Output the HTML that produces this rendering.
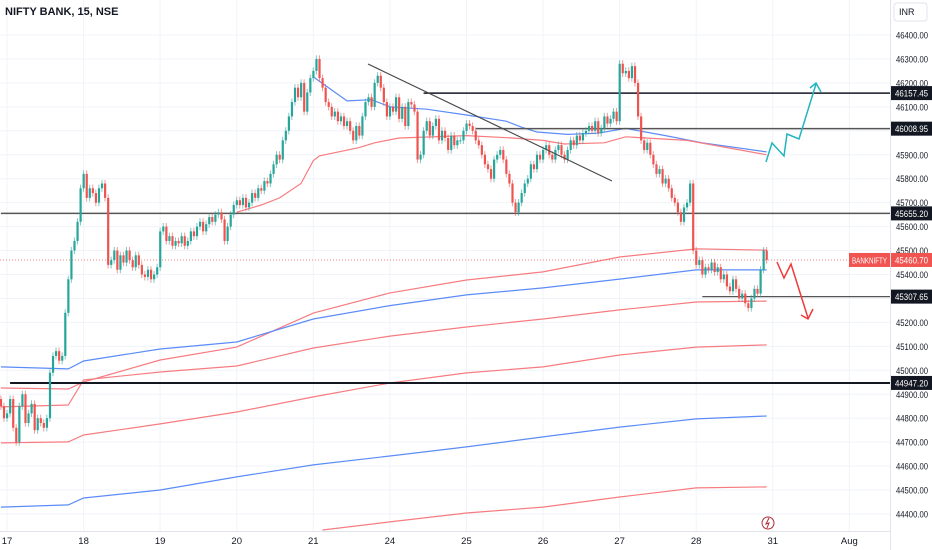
<!DOCTYPE html>
<html><head><meta charset="utf-8"><style>
html,body{margin:0;padding:0;background:#fff;}
svg{display:block;font-family:"Liberation Sans",sans-serif;}
</style></head><body>
<svg id="chart" width="932" height="550" viewBox="0 0 932 550" xmlns="http://www.w3.org/2000/svg">
<rect x="0" y="0" width="932" height="550" fill="#fff"/>
<g id="grid"></g>
<g id="bands"></g>
<g id="levels"></g>
<g id="candles"></g>
<g id="drawings"></g>
<g id="yaxis"></g>
<g id="xaxis"></g>
<text x="5" y="15" font-size="11" font-weight="bold" fill="#131722">NIFTY BANK, 15, NSE</text>
<rect x="894" y="3" width="33" height="18" rx="3" fill="#fff" stroke="#e0e3eb"/>
<text x="899" y="15" font-size="9" fill="#131722">INR</text>
<g><circle cx="768" cy="523" r="6" fill="none" stroke="#b22833" stroke-width="1"/><path d="M769 518 L766 524 L769 523 L767 528" fill="none" stroke="#b22833" stroke-width="1"/></g>
</svg>
<script>
// ---- data ----
const closes = [44850,44800,
44820,44880,44760,44700,44850,44900,44780,44820,44860,44750,44800,44780,44760,44800,44990,45060,45080,45040,45060,45240,45380,45500,45540,45620,45760,
45820,45720,45760,45740,45700,45760,45780,45720,45440,45460,45500,45420,45480,45450,45500,45460,45430,45480,45440,45400,45390,45420,45380,45400,45430,
45580,45600,45540,45560,45520,45540,45530,45560,45520,45540,45580,45560,45600,45620,45580,45610,45640,45620,45650,45660,45630,45540,45600,45650,45690,
45710,45690,45720,45680,45700,45740,45720,45760,45750,45790,45780,45820,45860,45900,45880,45960,46000,46060,46120,46180,46140,46200,46080,46160,46220,
46250,46300,46220,46180,46120,46100,46060,46080,46040,46060,46020,46040,46000,45960,46020,45980,46060,46120,46140,46100,46200,46230,46180,46120,46060,
46100,46080,46140,46050,46100,46020,46120,46110,46080,45880,45900,46000,46040,45980,46020,46050,45960,46000,45970,45920,45980,45940,45960,45960,46000,
46030,46020,46000,45960,45940,45900,45860,45840,45800,45880,45900,45920,45880,45820,45780,45700,45660,45700,45740,45780,45800,45860,45840,45900,45880,
45920,45940,45900,45880,45920,45940,45900,45880,45920,45960,45940,45980,45960,45990,46000,46020,46000,46040,45990,46010,46060,46030,46050,46080,46040,
46280,46240,46250,46220,46270,46200,46060,45960,45920,45950,45900,45860,45820,45840,45780,45800,45760,45720,45700,45660,45620,45680,45700,45780,45500,
45440,45460,45400,45430,45420,45450,45410,45430,45380,45400,45350,45330,45380,45340,45300,45320,45280,45260,45300,45340,45320,45420,45500,45461];
const bandIdx = [0,22,27,52,77,102,127,152,177,202,227,250];
const bandR1 = [44926,44922,44951,45043,45097,45239,45323,45377,45411,45473,45507,45502];
const bandB1 = [45014,45006,45039,45089,45118,45214,45270,45315,45344,45381,45419,45419];
const bandR2 = [44847,44855,44960,44993,45018,45093,45143,45181,45214,45252,45285,45289];
const bandR3 = [44697,44701,44730,44776,44826,44889,44947,44989,45014,45064,45097,45106];
const bandB2 = [44429,44438,44467,44500,44555,44605,44642,44680,44722,44763,44797,44809];
const r5Idx = [105,127,152,177,202,227,250];
const bandR5 = [44333,44367,44404,44429,44471,44509,44513];
const maBlueIdx = [102,113,121,127,139,152,165,170,175,185,195,204,217,229,250];
const maBlue = [46225,46125,46130,46100,46090,46066,46040,46015,45995,45985,45990,46010,45980,45950,45912];
const maRedIdx = [77,85,91,98,102,104,117,122,130,152,167,177,184,197,204,224,250];
const maRed = [45660,45690,45720,45780,45875,45895,45930,45950,45970,45980,45970,45960,45945,45950,45975,45960,45900];
const levelPrices = [46157.45,46008.95,45655.20,45307.65,44947.20];
const levelStartIdx = [138,155,0,229,3];
const dayLabels = ["17","18","19","20","21","24","25","26","27","28","31","Aug"];
const dayStartIdx = [2,27,52,77,102,127,152,177,202,227,252,277];
const yTicks = [44400,44500,44600,44700,44800,44900,45000,45100,45200,45300,45400,45500,45600,45700,45800,45900,46000,46100,46200,46300,46400];
const lastPrice = 45460.70;

// ---- scales ----
const NS="http://www.w3.org/2000/svg";
const y = p => 35 + (46400 - p) * 0.2395;
const x = i => 7 + (i - 2) * 3.063;
function mk(tag, attrs, parent){const e=document.createElementNS(NS,tag);for(const k in attrs)e.setAttribute(k,attrs[k]);parent.appendChild(e);return e;}
const G = id => document.getElementById(id);

// grid
yTicks.forEach(t=>{const l=mk('line',{x1:0,x2:890,y1:y(t),y2:y(t),stroke:'#f0f3fa','stroke-width':1},G('grid'));

});
dayStartIdx.forEach(i=>{const l=mk('line',{x1:x(i),x2:x(i),y1:0,y2:531,stroke:'#f0f3fa','stroke-width':1},G('grid'));

});
mk('line',{x1:890.5,x2:890.5,y1:0,y2:550,stroke:'#e0e3eb'},G('grid'));
mk('line',{x1:0,x2:890,y1:531.5,y2:531.5,stroke:'#e0e3eb'},G('grid'));

// bands / MAs
function poly(idx, vals, color, name){
  const pts = idx.map((i,k)=>x(i).toFixed(1)+','+y(vals[k]).toFixed(1)).join(' ');
  const p = mk('polyline',{points:pts,fill:'none',stroke:color,'stroke-width':1.2},G('bands'));
  
  
}
poly(bandIdx,bandR1,'#f77c80','vwap-upper-band');
poly(bandIdx,bandB1,'#5b8cf7','vwap-line');
poly(bandIdx,bandR2,'#f77c80','vwap-band-2');
poly(bandIdx,bandR3,'#f77c80','vwap-band-3');
poly(bandIdx,bandB2,'#5b8cf7','vwap-lower-line');
poly(r5Idx,bandR5,'#f77c80','vwap-lower-band');
poly(maBlueIdx,maBlue,'#5b8cf7','moving-average-fast');
poly(maRedIdx,maRed,'#f77c80','moving-average-slow');

// current price dotted line
const cp = mk('line',{x1:0,x2:849,y1:y(lastPrice),y2:y(lastPrice),stroke:'#f77c80','stroke-dasharray':'1 2','stroke-width':1},G('levels'));



// horizontal levels
const levelColors=['#131722','#555','#555','#555','#131722'];
const levelWidths=[1.5,1.5,1.5,1.2,2];
levelPrices.forEach((p,k)=>{
  const l = mk('line',{x1:x(levelStartIdx[k]),x2:890,y1:y(p),y2:y(p),stroke:levelColors[k],'stroke-width':levelWidths[k]},G('levels'));
  
  
});

// candles
closes.forEach((c,i)=>{
  const o = i===0 ? c+30 : closes[i-1];
  const hi = Math.max(o,c)+15, lo = Math.min(o,c)-15;
  const up = c>=o, col = up ? '#26a69a' : '#ef5350';
  const cx = x(i);
  const g = mk('g',{},G('candles'));
  
  
  mk('line',{x1:cx,x2:cx,y1:y(hi),y2:y(lo),stroke:col,'stroke-width':1,opacity:0.6},g);
  const top=y(Math.max(o,c)), h=Math.max(1,y(Math.min(o,c))-top);
  mk('rect',{x:cx-1,y:top,width:2.2,height:h,fill:col},g);
});

// drawings
const D=G('drawings');
let t=mk('line',{x1:368,y1:64,x2:612,y2:181,stroke:'#4a4a4a','stroke-width':1.2},D);


let a=mk('polyline',{points:'766,162 772,143 784,156 787,134 799,139 816,84',fill:'none',stroke:'#22b5bf','stroke-width':1.5},D);


mk('polyline',{points:'810,88 816,83 821,92',fill:'none',stroke:'#22b5bf','stroke-width':1.5},D);
let b=mk('polyline',{points:'777,262 784,278 791,264 808,318',fill:'none',stroke:'#f03a3a','stroke-width':1.5},D);


mk('polyline',{points:'801,315 808,319 813,309',fill:'none',stroke:'#f03a3a','stroke-width':1.5},D);

// y axis
const YA=G('yaxis');
yTicks.forEach(v=>{
  const tx=mk('text',{x:896,y:y(v)+3.5,'font-size':9,fill:'#131722',textLength:32,lengthAdjust:'spacingAndGlyphs'},YA);
  tx.textContent=v.toFixed(2);
  
  
});
levelPrices.forEach(p=>{
  mk('rect',{x:891,y:y(p)-7,width:41,height:14,fill:'#131722'},YA);
  const tx=mk('text',{x:895,y:y(p)+3.5,'font-size':9,fill:'#fff',textLength:33,lengthAdjust:'spacingAndGlyphs'},YA);
  tx.textContent=p.toFixed(2);
  
  
});
mk('rect',{x:849,y:y(lastPrice)-7,width:41,height:14,fill:'#f05350'},YA);
let sl=mk('text',{x:852,y:y(lastPrice)+3.5,'font-size':8.5,fill:'#fff',textLength:35,lengthAdjust:'spacingAndGlyphs'},YA);
sl.textContent='BANKNIFTY';


mk('rect',{x:891,y:y(lastPrice)-7,width:41,height:14,fill:'#f05350'},YA);
let lp=mk('text',{x:895,y:y(lastPrice)+3.5,'font-size':9,fill:'#fff',textLength:33,lengthAdjust:'spacingAndGlyphs'},YA);
lp.textContent=lastPrice.toFixed(2);



// x axis
dayLabels.forEach((d,k)=>{
  const tx=mk('text',{x:x(dayStartIdx[k]),y:544,'font-size':9.5,fill:'#131722','text-anchor':'middle'},G('xaxis'));
  tx.textContent=d;
  
  
});
</script>
</body></html>
